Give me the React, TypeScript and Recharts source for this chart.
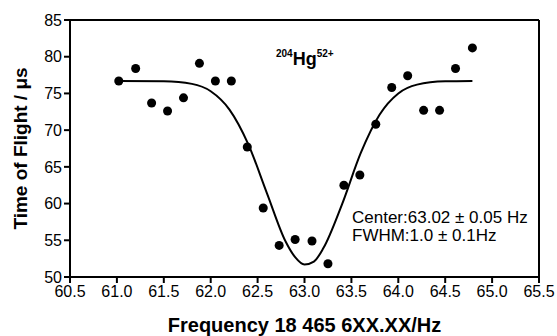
import React from "react";
import {
  ComposedChart,
  Line,
  Scatter,
  XAxis,
  YAxis,
  ReferenceLine,
} from "recharts";

// measured frequencies (offset, Hz) and time of flight (us)
const freqs = [
  61.02, 61.2, 61.37, 61.54, 61.71, 61.88, 62.05, 62.22, 62.39, 62.56, 62.73, 62.9,
  63.08, 63.25, 63.42, 63.59, 63.76, 63.93, 64.1, 64.27, 64.44, 64.61, 64.79,
];
const tofs = [
  76.7, 78.4, 73.7, 72.6, 74.4, 79.1, 76.7, 76.7, 67.7, 59.4, 54.3, 55.1,
  54.9, 51.8, 62.5, 63.9, 70.8, 75.8, 77.4, 72.7, 72.7, 78.4, 81.2,
];

// fitted curve
const fitFreqs = [
  61.02, 61.5, 61.8, 62.0, 62.2, 62.4, 62.6, 62.8, 62.9, 63.0, 63.1, 63.2, 63.4, 63.6,
  63.8, 64.0, 64.2, 64.5, 64.79,
];
const fitTofs = [
  76.7, 76.65, 76.3, 75.3, 72.8, 68.1, 61.4, 54.8, 52.7, 51.7, 52.1, 53.9, 59.9, 66.9,
  72.1, 75.0, 76.2, 76.65, 76.7,
];

const xTicks = [60.5, 61.0, 61.5, 62.0, 62.5, 63.0, 63.5, 64.0, 64.5, 65.0, 65.5];
const yTicks = [50, 55, 60, 65, 70, 75, 80, 85];

const points = freqs.map((x, i) => ({ x, y: tofs[i] }));
const fit = fitFreqs.map((x, i) => ({ x, y: fitTofs[i] }));

const font = "Arial, 'Liberation Sans', Helvetica, sans-serif";
const tickStyle = { fill: "#000", fontSize: 16, fontFamily: font };

export default function App() {
  return (
    <div style={{ position: "absolute", left: 0, top: 0, width: 557, height: 336, background: "#fff" }}>
      <ComposedChart
        width={557}
        height={336}
        margin={{ top: 20, right: 18, left: 0, bottom: 0 }}
      >
        <XAxis
          type="number"
          dataKey="x"
          domain={[60.5, 65.5]}
          ticks={xTicks}
          tickFormatter={(v: number) => v.toFixed(1)}
          allowDataOverflow
          height={59}
          stroke="#000"
          strokeWidth={2}
          tickSize={6}
          tickMargin={3}
          tick={tickStyle}
          label={{
            value: "Frequency 18 465 6XX.XX/Hz",
            position: "insideBottom",
            offset: 4,
            style: { fill: "#000", fontSize: 20, fontWeight: "bold", fontFamily: font },
          }}
        />
        <YAxis
          type="number"
          dataKey="y"
          domain={[50, 85]}
          ticks={yTicks}
          allowDataOverflow
          width={70}
          stroke="#000"
          strokeWidth={2}
          tickSize={6}
          tick={tickStyle}
          label={{
            value: "Time of Flight / \u03bcs",
            angle: -90,
            position: "insideLeft",
            offset: 20,
            style: { fill: "#000", fontSize: 19, fontWeight: "bold", fontFamily: font, textAnchor: "middle" },
          }}
        />
        <ReferenceLine y={85} stroke="#000" strokeWidth={2} />
        <ReferenceLine x={65.5} stroke="#000" strokeWidth={2} />
        <Line
          data={fit}
          dataKey="y"
          type="monotone"
          stroke="#000"
          strokeWidth={2}
          dot={false}
          activeDot={false}
          isAnimationActive={false}
        />
        <Scatter data={points} dataKey="y" fill="#000" shape="circle" isAnimationActive={false} />
      </ComposedChart>
      <svg
        width={557}
        height={336}
        style={{ position: "absolute", left: 0, top: 0, pointerEvents: "none" }}
      >
        <text x={276} y={65} fontFamily={font} fill="#000">
          <tspan fontSize={10} fontWeight="bold" dy={-8}>204</tspan>
          <tspan fontSize={18} fontWeight="bold" dy={8}>Hg</tspan>
          <tspan fontSize={10} fontWeight="bold" dy={-8}>52+</tspan>
        </text>
        <text x={352} y={223} fontFamily={font} fontSize={17} fill="#000">
          Center:63.02 {"\u00b1"} 0.05 Hz
        </text>
        <text x={352} y={241} fontFamily={font} fontSize={17} fill="#000">
          FWHM:1.0 {"\u00b1"} 0.1Hz
        </text>
      </svg>
    </div>
  );
}
